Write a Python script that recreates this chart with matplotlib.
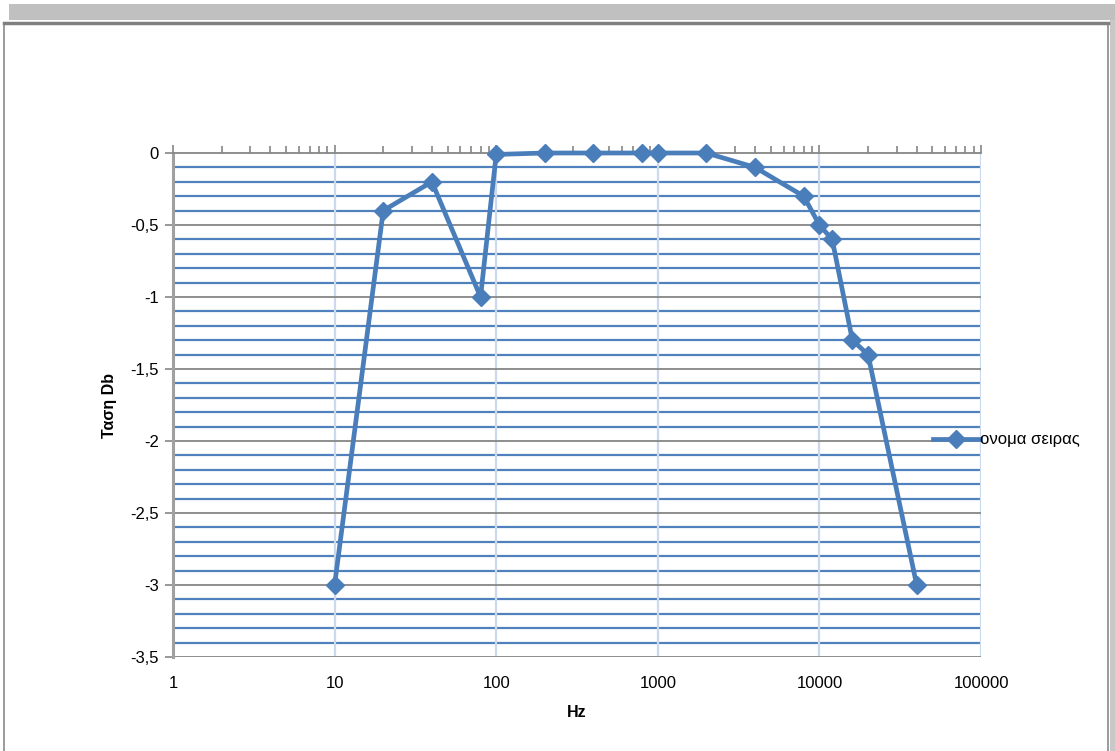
import matplotlib.pyplot as plt
import matplotlib.ticker as ticker
from matplotlib.patches import Rectangle
import numpy as np

# data
freq = [10, 20, 40, 80, 100, 200, 400, 800, 1000, 2000, 4000, 8000, 10000, 12000, 16000, 20000, 40000]
gain = [-3, -0.4, -0.2, -1, -0.01, 0, 0, 0, 0, 0, -0.1, -0.3, -0.5, -0.6, -1.3, -1.4, -3]
series_name = 'ονομα σειρας'
x_label = 'Hz'
y_label = 'Ταση Db'

blue = '#4a7ebb'
grid_blue = '#4f81bd'
grid_gray = '#868686'
vgrid = '#cad9ee'

plt.rcParams['font.family'] = ['Liberation Sans', 'DejaVu Sans']

fig = plt.figure(figsize=(11.15, 7.51), dpi=100)

# excel-ish frame around the chart
fig.patches.append(Rectangle((9 / 1115, 1 - 20 / 751), 1, 16 / 751, transform=fig.transFigure,
                             facecolor='#c0c0c0', edgecolor='none', zorder=-3))
fig.patches.append(Rectangle((1110 / 1115, 0), 5 / 1115, 1 - 20 / 751, transform=fig.transFigure,
                             facecolor='#c8c8c8', edgecolor='none', zorder=-3))
fig.patches.append(Rectangle((4 / 1115, -0.01), 1104 / 1115, 1 - 23 / 751 + 0.01, transform=fig.transFigure,
                             facecolor='white', edgecolor='#8a8a8a', linewidth=1.2, zorder=-2))
fig.lines.append(plt.Line2D([4 / 1115, 1108 / 1115], [1 - 23 / 751] * 2, transform=fig.transFigure,
                            color='#808080', linewidth=2.5, zorder=-1))

ax = fig.add_axes([173 / 1115, 94 / 751, 808 / 1115, 504 / 751])
ax.patch.set_alpha(0)
ax.set_xscale('log')
ax.set_xlim(1, 100000)
ax.set_ylim(-3.5, 0)

# gridlines
for v in np.arange(-3.4, 0, 0.1):
    if abs(v * 2 - round(v * 2)) > 1e-6:
        ax.axhline(v, color=grid_blue, linewidth=1.6, zorder=1)
for v in np.arange(-3.5, 0, 0.5):
    ax.axhline(v, color=grid_gray, linewidth=1.3, zorder=1.5)
for d in [10, 100, 1000, 10000, 100000]:
    ax.axvline(d, color=vgrid, linewidth=1.6, zorder=1.2)

ax.plot(freq, gain, color=blue, linewidth=3.4, marker='D', markersize=9,
        markeredgecolor=blue, label=series_name, zorder=3, clip_on=False)

for s in ['right', 'bottom']:
    ax.spines[s].set_visible(False)
ax.spines['top'].set_color(grid_gray)
ax.spines['top'].set_linewidth(1.3)
ax.spines['left'].set_color('#a0a0a0')
ax.spines['left'].set_linewidth(2.2)

ax.xaxis.set_major_locator(ticker.LogLocator(base=10, numticks=10))
ax.xaxis.set_minor_locator(ticker.LogLocator(base=10, subs=np.arange(2, 10), numticks=20))
ax.xaxis.set_major_formatter(ticker.FuncFormatter(lambda v, p: '%d' % round(v)))
ax.xaxis.set_minor_formatter(ticker.NullFormatter())
ax.tick_params(axis='x', which='both', top=True, bottom=False, labeltop=False, labelbottom=True,
               color=grid_gray, width=1.2, direction='out', labelsize=12, pad=8)
ax.tick_params(axis='x', which='major', length=6)
ax.tick_params(axis='x', which='minor', length=5)

ax.yaxis.set_major_locator(ticker.MultipleLocator(0.5))
ax.yaxis.set_major_formatter(ticker.FuncFormatter(lambda v, p: ('%g' % v).replace('.', ',')))
ax.tick_params(axis='y', which='major', length=6, width=1.2, color=grid_gray, labelsize=12, pad=4)

ax.set_xlabel(x_label, fontweight='bold', fontsize=11.5, labelpad=10)
ax.set_ylabel(y_label, fontweight='bold', fontsize=11.5, labelpad=10)

fig.legend(loc='center left', bbox_to_anchor=(918 / 1115, 1 - 440 / 751), frameon=False,
           handlelength=2.8, handletextpad=0.0, fontsize=12)

fig.savefig('out.png', dpi=100)
